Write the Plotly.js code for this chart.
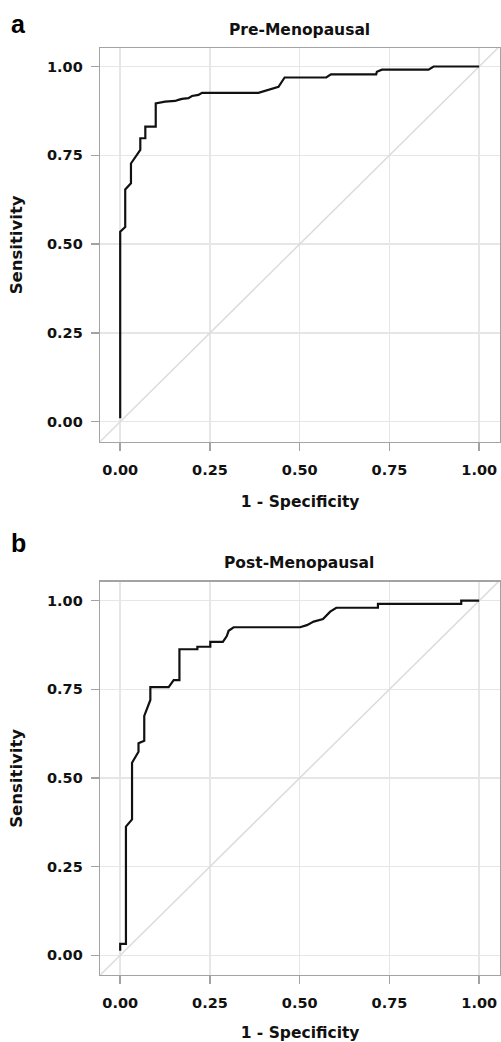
<!DOCTYPE html>
<html>
<head>
<meta charset="utf-8">
<script src="https://cdn.plot.ly/plotly-3.0.1.min.js"></script>
<style>html,body{margin:0;padding:0;background:#fff;}#chart{width:501px;height:1042px;}</style>
</head>
<body>
<div id="chart"></div>
<script>
// ---- data ----
var preFpr = [0, 0, 0.014, 0.014, 0.03, 0.03, 0.056, 0.056, 0.07, 0.07, 0.099, 0.099, 0.125, 0.153, 0.162, 0.172, 0.19, 0.2, 0.218, 0.228, 0.385, 0.441, 0.458, 0.574, 0.587, 0.713, 0.715, 0.729, 0.859, 0.873, 1.0];
var preTpr = [0.01, 0.535, 0.548, 0.654, 0.671, 0.727, 0.765, 0.798, 0.798, 0.831, 0.831, 0.896, 0.901, 0.903, 0.906, 0.909, 0.911, 0.917, 0.92, 0.926, 0.926, 0.943, 0.969, 0.969, 0.978, 0.978, 0.985, 0.991, 0.991, 1.0, 1.0];
var postFpr = [0, 0, 0.016, 0.016, 0.033, 0.033, 0.051, 0.051, 0.067, 0.067, 0.084, 0.084, 0.135, 0.149, 0.165, 0.165, 0.215, 0.215, 0.251, 0.251, 0.286, 0.297, 0.302, 0.316, 0.501, 0.52, 0.539, 0.565, 0.585, 0.602, 0.718, 0.718, 0.95, 0.95, 1.0];
var postTpr = [0.013, 0.032, 0.032, 0.363, 0.383, 0.543, 0.574, 0.598, 0.605, 0.675, 0.72, 0.756, 0.756, 0.776, 0.776, 0.863, 0.863, 0.870, 0.870, 0.884, 0.884, 0.9, 0.915, 0.925, 0.925, 0.931, 0.941, 0.948, 0.969, 0.98, 0.98, 0.991, 0.991, 1.0, 1.0];
var chanceLine = [-0.1, 1.1];
var tickVals = [0, 0.25, 0.5, 0.75, 1];
var tickText = ["0.00", "0.25", "0.50", "0.75", "1.00"];
var panelTitles = ["Pre-Menopausal", "Post-Menopausal"];
var panelLetters = ["a", "b"];
var xTitle = "1 - Specificity";
var yTitle = "Sensitivity";

// ---- styling ----
var FONT = "DejaVu Sans, sans-serif";
var frameColor = "#a3a3a3";
var gridColor = "#e6e6e6";

function diag(xa, ya) {
  return {x: chanceLine, y: chanceLine, xaxis: xa, yaxis: ya, mode: "lines",
    line: {color: "#dcdcdc", width: 1.5}, hoverinfo: "skip", showlegend: false};
}
function roc(x, y, xa, ya) {
  return {x: x, y: y, xaxis: xa, yaxis: ya, mode: "lines",
    line: {color: "#111111", width: 2.2}, showlegend: false};
}

var traces = [
  diag("x", "y"), roc(preFpr, preTpr, "x", "y"),
  diag("x2", "y2"), roc(postFpr, postTpr, "x2", "y2")
];

function xax(anchor) {
  return {anchor: anchor, domain: [0.2, 0.998], range: [-0.0557, 1.058],
    tickvals: tickVals, ticktext: tickText, ticks: "outside", ticklen: 8, tickwidth: 1.5,
    tickcolor: frameColor, showline: true, mirror: true, linecolor: frameColor, linewidth: 1.5,
    showgrid: true, gridcolor: gridColor, gridwidth: 1.5, zeroline: false,
    tickfont: {family: FONT, size: 14.5, color: "#111", weight: "bold"},
    ticklabelstandoff: 6,
    title: {text: xTitle, font: {family: FONT, size: 15.5, color: "#111", weight: "bold"}, standoff: 19}};
}
function yax(anchor, domain, range) {
  return {anchor: anchor, domain: domain, range: range,
    tickvals: tickVals, ticktext: tickText, ticks: "outside", ticklen: 8, tickwidth: 1.5,
    tickcolor: frameColor, showline: true, mirror: true, linecolor: frameColor, linewidth: 1.5,
    showgrid: true, gridcolor: gridColor, gridwidth: 1.5, zeroline: false,
    tickfont: {family: FONT, size: 14.5, color: "#111", weight: "bold"},
    ticklabelstandoff: 5,
    title: {text: yTitle, font: {family: FONT, size: 16.5, color: "#111", weight: "bold"}, standoff: 20}};
}

var layout = {
  width: 501, height: 1042,
  margin: {l: 0, r: 0, t: 0, b: 0},
  paper_bgcolor: "#fff", plot_bgcolor: "#fff",
  showlegend: false,
  xaxis: xax("y"),
  yaxis: yax("x", [0.5761, 0.9539], [-0.0563, 1.052]),
  xaxis2: xax("y2"),
  yaxis2: yax("x2", [0.0643, 0.4418], [-0.0556, 1.0536]),
  annotations: [
    {text: panelTitles[0], xref: "paper", yref: "paper", x: 0.597, y: 1 - 30/1042, xanchor: "center", yanchor: "middle", showarrow: false,
     font: {family: FONT, size: 15.5, color: "#111", weight: "bold"}},
    {text: panelTitles[1], xref: "paper", yref: "paper", x: 0.597, y: 1 - 563/1042, xanchor: "center", yanchor: "middle", showarrow: false,
     font: {family: FONT, size: 15.5, color: "#111", weight: "bold"}},
    {text: panelLetters[0], xref: "paper", yref: "paper", x: 18/501, y: 1 - 24/1042, xanchor: "center", yanchor: "middle", showarrow: false,
     font: {family: "Liberation Sans, Arial, sans-serif", size: 25, color: "#000", weight: "bold"}},
    {text: panelLetters[1], xref: "paper", yref: "paper", x: 18/501, y: 1 - 543/1042, xanchor: "center", yanchor: "middle", showarrow: false,
     font: {family: "Liberation Sans, Arial, sans-serif", size: 25, color: "#000", weight: "bold"}}
  ]
};

Plotly.newPlot("chart", traces, layout, {staticPlot: true, displayModeBar: false});
</script>
</body>
</html>
